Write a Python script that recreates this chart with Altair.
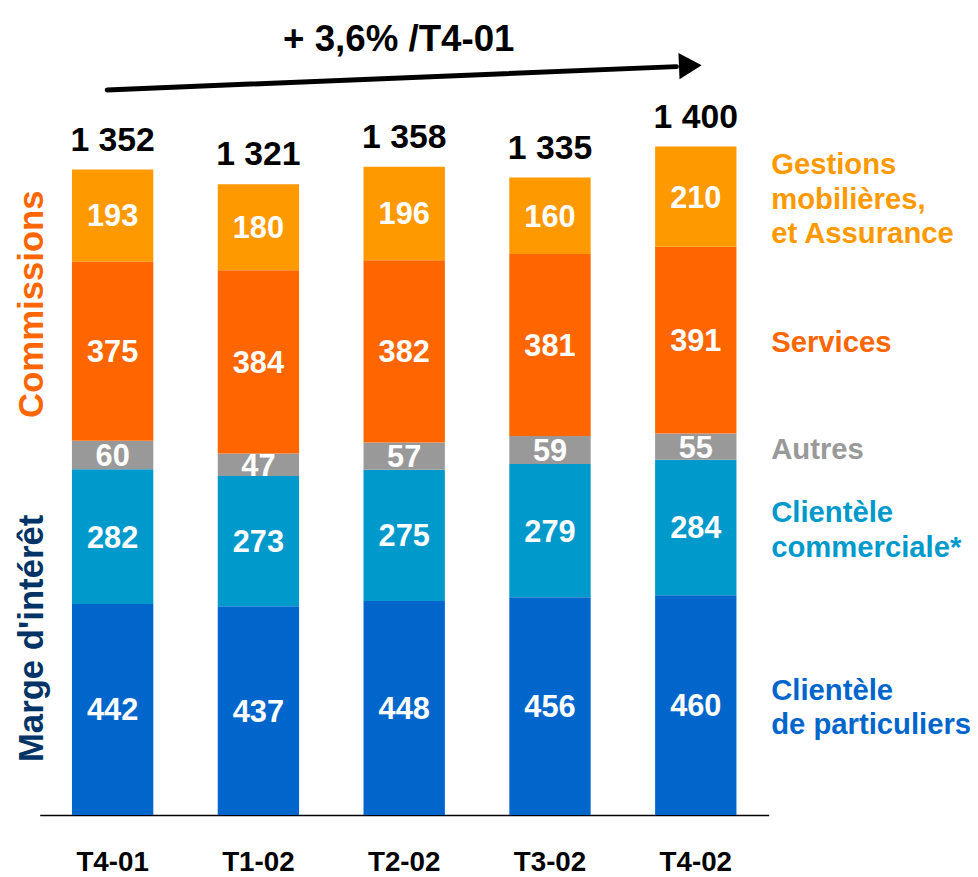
import altair as alt
import pandas as pd

quarters = ["T4-01", "T1-02", "T2-02", "T3-02", "T4-02"]
particuliers = [442, 437, 448, 456, 460]
commerciale = [282, 273, 275, 279, 284]
autres = [60, 47, 57, 59, 55]
services = [375, 384, 382, 381, 391]
gestions = [193, 180, 196, 160, 210]

series_keys = ["particuliers", "commerciale", "autres", "services", "gestions"]
series_labels = ["Clientèle\nde particuliers", "Clientèle\ncommerciale*", "Autres",
                 "Services", "Gestions\nmobilières,\net Assurance"]
series_colors = ["#0066CC", "#0099CC", "#999999", "#FF6600", "#FF9900"]
series_values = [particuliers, commerciale, autres, services, gestions]

title_text = "+ 3,6% /T4-01"
left_labels = ["Commissions", "Marge d'intérêt"]

rows = []
for order, (key, lab, vals) in enumerate(zip(series_keys, series_labels, series_values)):
    for q, v in zip(quarters, vals):
        rows.append({"quarter": q, "series": key, "label": lab, "value": v, "order": order,
                     "nlines": lab.count("\n") + 1})
df = pd.DataFrame(rows)

FONT = "Liberation Sans"
LH = 35

xscale = alt.Scale(domain=quarters, paddingInner=0.442, paddingOuter=0.221)
yscale = alt.Scale(domain=[0, 1500])
cscale = alt.Scale(domain=series_keys, range=series_colors)

base = alt.Chart(df).transform_stack(
    stack="value", groupby=["quarter"], as_=["y0", "y1"],
    sort=[alt.SortField("order", order="ascending")]
).transform_calculate(mid="(datum.y0 + datum.y1) / 2")

xenc = alt.X("quarter:N", scale=xscale, sort=quarters,
             axis=alt.Axis(title=None, labelAngle=0, labelFontSize=28, labelFontWeight="bold",
                           labelColor="black", labelFont=FONT, domainColor="black", domainWidth=1.5,
                           ticks=False, grid=False, labelPadding=34))

bars = base.mark_bar().encode(
    x=xenc,
    y=alt.Y("y0:Q", scale=yscale, axis=None),
    y2="y1:Q",
    color=alt.Color("series:N", scale=cscale, legend=None),
)

values = base.mark_text(color="white", fontSize=31, fontWeight="bold", font=FONT,
                        baseline="middle", dy=2).encode(
    x=alt.X("quarter:N", scale=xscale, sort=quarters),
    y=alt.Y("mid:Q", scale=yscale),
    text="value:Q",
)

totals = alt.Chart(df).transform_aggregate(
    total="sum(value)", groupby=["quarter"]
).transform_calculate(
    lbl="replace(format(datum.total, ','), ',', ' ')"
).mark_text(fontSize=34, fontWeight="bold", font=FONT, color="black",
            baseline="alphabetic", dy=-19).encode(
    x=alt.X("quarter:N", scale=xscale, sort=quarters),
    y=alt.Y("total:Q", scale=yscale),
    text="lbl:N",
)

right_layers = []
for n in [1, 2, 3]:
    right_layers.append(
        base.transform_filter((alt.datum.quarter == quarters[-1]) & (alt.datum.nlines == n)).mark_text(
            fontSize=29.5, fontWeight="bold", font=FONT, align="left", baseline="middle",
            dx=76, dy=3 - (n - 1) * LH / 2, lineBreak="\n", lineHeight=LH).encode(
            x=alt.X("quarter:N", scale=xscale, sort=quarters),
            y=alt.Y("mid:Q", scale=yscale),
            text="label:N",
            color=alt.Color("series:N", scale=cscale, legend=None),
        )
    )

one = pd.DataFrame({"t": [title_text]})

title = alt.Chart(one).mark_text(fontSize=37, fontWeight="bold", font=FONT, color="black",
                                 align="center", baseline="alphabetic").encode(
    x=alt.value(362), y=alt.value(-48), text="t:N")

arrow_line = alt.Chart(one).mark_rule(color="black", strokeWidth=5, strokeCap="round").encode(
    x=alt.value(68), y=alt.value(-9), x2=alt.value(642), y2=alt.value(-32.5))

arrow_head = alt.Chart(one).mark_point(shape="triangle-right", filled=True, color="black",
                                       opacity=1, size=700, angle=357.6).encode(
    x=alt.value(656), y=alt.value(-33.5))

left_df = pd.DataFrame({"t": left_labels})
left_comm = alt.Chart(left_df).transform_filter(alt.datum.t == left_labels[0]).mark_text(
    fontSize=35, fontWeight="bold", font=FONT, color="#FF6600", angle=270,
    align="center", baseline="middle").encode(x=alt.value(-8), y=alt.value(207), text="t:N")
left_marge = alt.Chart(left_df).transform_filter(alt.datum.t == left_labels[1]).mark_text(
    fontSize=35, fontWeight="bold", font=FONT, color="#003366", angle=270,
    align="center", baseline="middle").encode(x=alt.value(-8), y=alt.value(544), text="t:N")

chart = alt.layer(bars, values, totals, *right_layers, title, arrow_line, arrow_head,
                  left_comm, left_marge).properties(
    width=735, height=722,
    background="white",
    autosize=alt.AutoSizeParams(type="none"),
    padding={"left": 32, "top": 88, "right": 203, "bottom": 59},
).configure_view(strokeWidth=0)

chart.save("out.html", embed_options={"renderer": "svg", "actions": False})
